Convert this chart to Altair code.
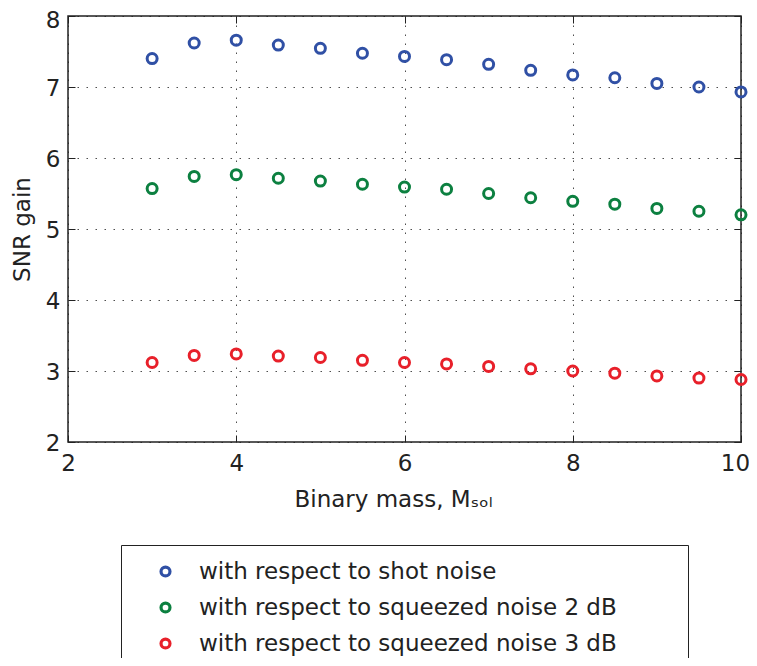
import altair as alt
import pandas as pd

mass = [3, 3.5, 4, 4.5, 5, 5.5, 6, 6.5, 7, 7.5, 8, 8.5, 9, 9.5, 10]
shot = [7.40, 7.62, 7.66, 7.59, 7.545, 7.475, 7.43, 7.385, 7.32, 7.235, 7.17, 7.13, 7.05, 7.00, 6.93]
sq2 = [5.57, 5.74, 5.765, 5.715, 5.675, 5.63, 5.59, 5.56, 5.50, 5.44, 5.39, 5.35, 5.29, 5.25, 5.20]
sq3 = [3.12, 3.22, 3.24, 3.21, 3.19, 3.15, 3.12, 3.10, 3.065, 3.03, 3.00, 2.97, 2.93, 2.90, 2.88]
series = ["with respect to shot noise",
          "with respect to squeezed noise 2 dB",
          "with respect to squeezed noise 3 dB"]
colors = ["#3050A5", "#0C8040", "#E8202A"]
x_ticks = [2, 4, 6, 8, 10]
y_ticks = [2, 3, 4, 5, 6, 7, 8]

rows = []
for name, vals in zip(series, [shot, sq2, sq3]):
    for m, v in zip(mass, vals):
        rows.append({"mass": m, "gain": v, "series": name})
df = pd.DataFrame(rows)

FONT = "DejaVu Sans"
FS = 23

xs = alt.Scale(domain=[2, 10], nice=False, zero=False)
ys = alt.Scale(domain=[2, 8], nice=False, zero=False)
base = alt.Chart(df)

points = base.mark_point(filled=False, size=100, strokeWidth=3, opacity=1).encode(
    x=alt.X("mass:Q", scale=xs,
            axis=alt.Axis(orient="bottom", values=x_ticks, title="Binary mass, Mₛₒₗ",
                          ticks=False, domain=False, grid=True, gridDash=[1.5, 7.5],
                          gridColor="#222", gridOpacity=0.8, labelPadding=10,
                          labelFlush=False,
                          labelOffset={"condition": {"test": "datum.value == 10", "value": -6},
                                       "value": 0},
                          titlePadding=13, titleX=325)),
    y=alt.Y("gain:Q", scale=ys,
            axis=alt.Axis(orient="left", values=y_ticks, title="SNR gain",
                          ticks=False, domain=False, grid=True, gridDash=[1.5, 7.5],
                          gridColor="#222", gridOpacity=0.8, labelPadding=8,
                          labelFlush=False,
                          labelOffset={"condition": {"test": "datum.value == 8", "value": 4},
                                       "value": 1},
                          titlePadding=11)),
    color=alt.Color("series:N", scale=alt.Scale(domain=series, range=colors),
                    legend=alt.Legend(orient="none", legendX=53, legendY=529,
                                      title="\u00a0", titleOrient="right",
                                      titleFontSize=1, titlePadding=56,
                                      strokeColor="#222", fillColor="white",
                                      padding=15, symbolType="circle",
                                      symbolSize=80, symbolStrokeWidth=3.2,
                                      symbolOffset=18, labelOffset=22,
                                      rowPadding=12, labelFontSize=FS,
                                      labelFont=FONT,
                                      labelColor="#222", labelLimit=700)),
)

ticks_bl = base.mark_point(opacity=0).encode(
    x=alt.X("mass:Q", scale=xs,
            axis=alt.Axis(orient="bottom", offset=-7, values=x_ticks, labels=False,
                          domain=False, grid=False, ticks=True, tickSize=7,
                          tickColor="#222", title=None)),
    y=alt.Y("gain:Q", scale=ys,
            axis=alt.Axis(orient="left", offset=-7, values=y_ticks, labels=False,
                          domain=False, grid=False, ticks=True, tickSize=7,
                          tickColor="#222", title=None)),
)
ticks_tr = base.mark_point(opacity=0).encode(
    x=alt.X("mass:Q", scale=xs,
            axis=alt.Axis(orient="top", offset=-7, values=x_ticks, labels=False,
                          domain=False, grid=False, ticks=True, tickSize=7,
                          tickColor="#222", title=None)),
    y=alt.Y("gain:Q", scale=ys,
            axis=alt.Axis(orient="right", offset=-7, values=y_ticks, labels=False,
                          domain=False, grid=False, ticks=True, tickSize=7,
                          tickColor="#222", title=None)),
)

chart = alt.layer(ticks_bl, ticks_tr, points).resolve_axis(
    x="independent", y="independent"
).properties(
    width=673, height=426,
    autosize=alt.AutoSizeParams(type="none"),
    padding={"left": 60, "top": 8, "right": 8, "bottom": 216},
).configure(
    font=FONT,
).configure_view(
    stroke="#222", strokeWidth=1.5,
).configure_axis(
    labelFontSize=FS, titleFontSize=FS, labelColor="#222", titleColor="#222",
    titleFontWeight="normal", labelFont=FONT, titleFont=FONT,
)

chart.save("out.html", embed_options={"renderer": "svg", "actions": False})
